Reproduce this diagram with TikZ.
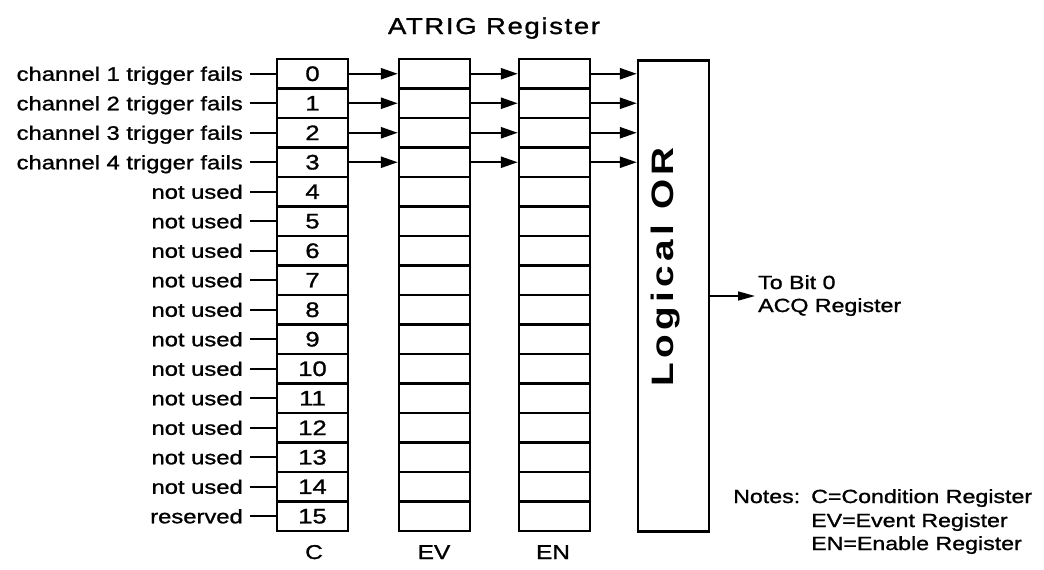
\documentclass[tikz,border=0pt]{standalone}
\usepackage{fontspec}
\setmainfont{Liberation Sans}
\newfontfamily\labfont[FakeStretch=1.22,FakeBold=1.2]{Liberation Sans}
\newfontfamily\titlefont[FakeStretch=1.2,LetterSpace=7,FakeBold=1.2]{Liberation Sans}
\newfontfamily\orfont[FakeStretch=1.25,LetterSpace=14]{Liberation Sans}
\usetikzlibrary{arrows.meta}
\tikzset{
  cell/.style={draw, minimum width=71pt, minimum height=29.5pt, inner sep=0pt,
    font=\labfont\fontsize{21}{21}\selectfont},
  lab/.style={anchor=base east, inner sep=0pt, font=\labfont\fontsize{19.5}{19.5}\selectfont},
  txt/.style={anchor=base west, inner sep=0pt, font=\labfont\fontsize{19}{19}\selectfont},
  colname/.style={anchor=base, inner sep=0pt, font=\labfont\fontsize{20}{20}\selectfont},
  arr/.style={-{Triangle[length=17pt,width=11pt]}},
  arrout/.style={line width=1.6pt, -{Triangle[length=17pt,width=9pt]}},
  orbox/.style={draw, minimum width=71pt, minimum height=471pt, inner sep=0pt},
}
\begin{document}
\begin{tikzpicture}[x=1pt, y=-1pt, line width=2.4pt]
\useasboundingbox (0,0) rectangle (1044,570);
\node[inner sep=0pt, anchor=base, font=\titlefont\fontsize{23}{23}\selectfont] (title) at (494,34) {ATRIG Register};
% registers
\foreach \i/\t in {0/channel 1 trigger fails,1/channel 2 trigger fails,2/channel 3 trigger fails,3/channel 4 trigger fails,4/not used,5/not used,6/not used,7/not used,8/not used,9/not used,10/not used,11/not used,12/not used,13/not used,14/not used,15/reserved}{
  \pgfmathsetmacro{\yy}{59+29.5*(\i+0.5)}
  \node[cell] (c\i) at (312.5,\yy) {\i};
  \node[cell] (v\i) at (434.5,\yy) {};
  \node[cell] (n\i) at (554.5,\yy) {};
  \coordinate (s\i) at (250,\yy);
  \draw (s\i) -- (c\i.west);
  \node[lab] (l\i) at (244,\yy+7) {\t};
}
\node[orbox] (or) at (673.5,296) {};
\node[rotate=90, inner sep=0pt, font=\orfont\bfseries\fontsize{31}{31}\selectfont] (ortext) at (666,267) {Logical OR};
\foreach \i in {0,1,2,3}{
  \draw[arr] (c\i.east) -- (v\i.west);
  \draw[arr] (v\i.east) -- (n\i.west);
  \draw[arr] (n\i.east) -- (n\i.east -| or.west);
}
\coordinate (out) at (755,296);
\draw[arrout] (or.east) -- (out);
\node[txt] (tb) at (757,289) {To Bit 0};
\node[txt] (acq) at (757,312) {ACQ Register};
% column names
\node[colname] (cn) at (314,559) {C};
\node[colname] (evn) at (434,559) {EV};
\node[colname] (enn) at (553,559) {EN};
% notes
\node[txt] (notes) at (732,503) {Notes:};
\node[txt] (n1) at (810,503) {C=Condition Register};
\node[txt] (n2) at (810,527) {EV=Event Register};
\node[txt] (n3) at (810,550) {EN=Enable Register};
\end{tikzpicture}
\end{document}
